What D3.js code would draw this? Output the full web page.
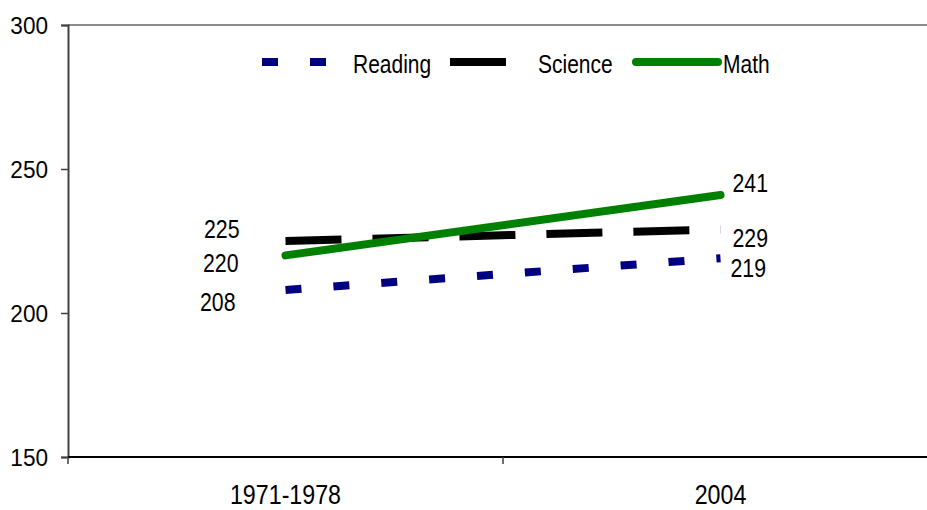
<!DOCTYPE html>
<html lang="en">
<head>
<meta charset="utf-8">
<title>Scores</title>
<script src="https://d3js.org/d3.v7.min.js"></script>
<style>
  body { margin: 0; background: #fff; }
  svg text { font-family: "Liberation Sans", Arial, sans-serif; fill: #000; }
</style>
</head>
<body>
<div id="chart"></div>
<script>
// data
const categories = ["1971-1978", "2004"];
const seriesNames = ["Reading", "Science", "Math"];
const reading = [208, 219];
const science = [225, 229];
const math = [220, 241];
const yTicks = [150, 200, 250, 300];

const width = 927, height = 510;
const margin = {left: 68, top: 25, bottom: 53};

const svg = d3.select("#chart").append("svg")
    .attr("width", width)
    .attr("height", height);

const x = d3.scaleBand()
    .domain(categories)
    .range([margin.left, margin.left + 870]);

const y = d3.scaleLinear()
    .domain([150, 300])
    .range([height - margin.bottom, margin.top]);

// no narrow font installed, so squeeze text horizontally
function narrow(sel, px, py, sx) {
    sel.attr("x", 0).attr("y", 0)
        .attr("transform", `translate(${px},${py}) scale(${sx},1)`);
}

// style per series (line look + label offsets at start / end)
const styles = {
    Reading: {color: "#000080", dash: "16,32", cap: "butt", lab: [[-50, 12], [10, 10]]},
    Science: {color: "#000000", dash: "56,31", cap: "butt", lab: [[-46, -12], [12, 8]]},
    Math:    {color: "#008000", dash: null,    cap: "round", lab: [[-47, 7], [12, -12]]}
};
const values = {Reading: reading, Science: science, Math: math};

// top border line
svg.append("line")
    .attr("x1", margin.left).attr("x2", width)
    .attr("y1", y(300)).attr("y2", y(300))
    .attr("stroke", "#8c8c8c").attr("stroke-width", 2);

// y axis
const yAxis = svg.append("g")
    .attr("transform", `translate(${margin.left},0)`)
    .call(d3.axisLeft(y).tickValues(yTicks).tickSize(7).tickPadding(13).tickFormat(d3.format("d")));
yAxis.select(".domain").attr("stroke", "#404040").attr("stroke-width", 2);
yAxis.selectAll(".tick line").attr("stroke", "#404040").attr("stroke-width", 1.5);
yAxis.selectAll("text")
    .attr("font-size", 24).attr("fill", "#000")
    .attr("dy", "0.36em")
    .call(narrow, -20, 0, 0.94);

// x axis - ticks between categories
const xb = svg.append("g").attr("transform", `translate(0,${y(150)})`);
xb.append("line")
    .attr("x1", margin.left).attr("x2", width)
    .attr("stroke", "#000").attr("stroke-width", 2);
xb.selectAll(".xt")
    .data(categories)
    .enter().append("line")
    .attr("x1", d => x(d)).attr("x2", d => x(d))
    .attr("y1", 0).attr("y2", 7)
    .attr("stroke", "#404040").attr("stroke-width", 1.5);
xb.selectAll(".xl")
    .data(categories)
    .enter().append("text")
    .attr("text-anchor", "middle")
    .attr("font-size", 28)
    .text(d => d)
    .each(function(d) {
        d3.select(this).call(narrow, x(d) + x.bandwidth() / 2, 47, 0.83);
    });

// lines
const line = d3.line()
    .x((d, i) => x(categories[i]) + x.bandwidth() / 2)
    .y(d => y(d));

seriesNames.forEach(name => {
    const s = styles[name];
    svg.append("path")
        .datum(values[name])
        .attr("d", line)
        .attr("fill", "none")
        .attr("stroke", s.color)
        .attr("stroke-width", 8)
        .attr("stroke-linecap", s.cap)
        .attr("stroke-dasharray", s.dash);

    svg.selectAll(".lab-" + name)
        .data(values[name])
        .enter().append("text")
        .attr("dy", "0.35em")
        .attr("text-anchor", (d, i) => i === 0 ? "end" : "start")
        .attr("font-size", 26)
        .text(d => d)
        .each(function(d, i) {
            d3.select(this).call(narrow,
                x(categories[i]) + x.bandwidth() / 2 + s.lab[i][0],
                y(d) + s.lab[i][1], 0.82);
        });
});

// legend
const legendPos = {Reading: [262, 328, 353], Science: [450, 516, 538], Math: [636, 718, 723]};
const lg = svg.append("g");
seriesNames.forEach(name => {
    const s = styles[name];
    const p = legendPos[name];
    lg.append("line")
        .attr("x1", p[0]).attr("x2", p[1])
        .attr("y1", 62).attr("y2", 62)
        .attr("stroke", s.color)
        .attr("stroke-width", 8)
        .attr("stroke-linecap", s.cap)
        .attr("stroke-dasharray", s.dash);
    lg.append("text")
        .attr("dy", "0.35em")
        .attr("font-size", 25)
        .text(name)
        .call(narrow, p[2], 64, 0.84);
});
</script>
</body>
</html>
